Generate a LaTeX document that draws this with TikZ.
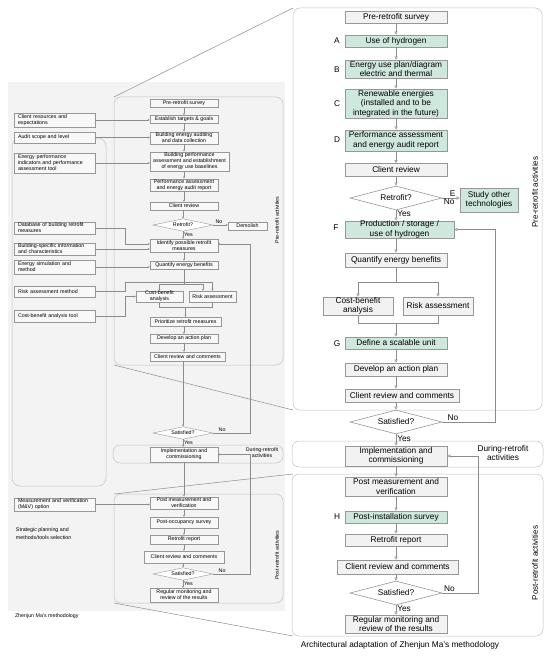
\documentclass[tikz,border=0pt]{standalone}
\usepackage{fontspec}
\setmainfont{Liberation Sans}
\usetikzlibrary{shapes.geometric,arrows.meta}

\definecolor{boxgray}{HTML}{F2F2F2}
\definecolor{boxline}{HTML}{979797}
\definecolor{mint}{HTML}{CFE8DE}
\definecolor{linegray}{HTML}{8C8C8C}
\definecolor{panelgray}{HTML}{C2C2C2}
\definecolor{bggray}{HTML}{F3F3F3}
\definecolor{lfill}{HTML}{F8F8F8}

\newcommand\rsize{\fontsize{8.3}{9.5}\selectfont}
\newcommand\lsize{\fontsize{5.3}{5.9}\selectfont}

\begin{document}
\begin{tikzpicture}[x=1pt,y=-1pt,
    line/.style={draw=linegray,line width=0.5pt},
    rarr/.style={line,-{Triangle[open,length=3pt,width=3pt]}},
    larr/.style={line,line width=0.4pt,-{Triangle[open,length=2pt,width=2pt]}},
    panel/.style={draw=panelgray,line width=0.5pt,rounded corners=7pt},
    rbox/.style={draw=boxline,fill=boxgray,line width=0.6pt,minimum width=102pt,inner xsep=3pt,inner ysep=0pt,align=center,font=\rsize},
    rgreen/.style={rbox,fill=mint},
    rdia/.style={diamond,aspect=4,draw=boxline,fill=white,line width=0.6pt,inner sep=0pt,minimum width=92pt,minimum height=24pt,font=\rsize},
    lbox/.style={draw=boxline,fill=lfill,line width=0.4pt,minimum width=68pt,inner xsep=2pt,inner ysep=0pt,align=center,font=\lsize},
    ldia/.style={diamond,aspect=4.5,draw=boxline,fill=white,line width=0.4pt,inner sep=0pt,minimum width=60pt,minimum height=12.5pt,font=\lsize},
    lin/.style={draw=boxline,fill=lfill,line width=0.4pt,text width=73pt,inner xsep=4pt,inner ysep=0pt,align=left,font=\lsize},
    rlab/.style={font=\rsize,inner sep=1pt},
    llab/.style={font=\lsize,inner sep=0.8pt}]
    \useasboundingbox (0,0) rectangle (550,658);

    \fill[bggray] (8,82) rectangle (285,611);
    \draw[panel,rounded corners=8pt] (12,138) rectangle (106,486);
    \draw[panel] (114,97) rectangle (283,365);
    \draw[panel] (113,445) rectangle (283,463);
    \draw[panel] (114,494) rectangle (283,603);
    \draw[panel] (293,8) rectangle (542,410);
    \draw[panel] (292,441) rectangle (543,467);
    \draw[panel] (292,474) rectangle (543,636);
    \draw[line] (114,97) -- (293,8);
    \draw[line] (114,365) -- (293,410);
    \draw[line] (114,494) -- (293,474);
    \draw[line] (114,603) -- (293,636);

    \node[lbox,minimum height=8pt] (lsurvey) at (184,103) {Pre-retrofit survey};
    \node[lbox,minimum height=8pt] (ltarget) at (184,119.5) {Establish targets \& goals};
    \node[lbox,minimum height=12.5pt] (laudit) at (184,138) {Building energy auditing\\and data collection};
    \node[lbox,minimum width=79pt,minimum height=19.5pt] (lbase) at (189.5,161.5) {Building performance\\assessment and establishment\\of energy use baselines};
    \node[lbox,minimum height=12.5pt] (lperf) at (184,185) {Performance assessment\\and energy audit report};
    \node[lbox,minimum height=8pt] (lclient) at (184,206) {Client review};
    \node[ldia] (lretro) at (183,225) {Retrofit?};
    \node[lbox,minimum width=39pt,minimum height=8pt] (ldemol) at (247.5,226) {Demolish};
    \node[lbox,minimum height=13pt] (lident) at (184,245.5) {Identify possible retrofit\\measures};
    \node[lbox,minimum height=8pt] (lquant) at (184,265) {Quantify energy benefits};
    \node[lbox,minimum width=47pt,minimum height=11pt] (lcost) at (159.5,296.5) {Cost-benefit\\analysis};
    \node[lbox,minimum width=47pt,minimum height=11pt] (lrisk) at (212.5,296.5) {Risk assessment};
    \node[lbox,minimum width=71pt,minimum height=9pt] (lprior) at (185.5,321.5) {Prioritize retrofit measures};
    \node[lbox,minimum height=9pt] (laction) at (184,338.5) {Develop an action plan};
    \node[lbox,minimum width=75pt,minimum height=9pt] (lreview) at (187.5,356.5) {Client review and comments};
    \node[ldia] (lsat1) at (183,433) {Satisfied?};
    \node[lbox,minimum height=15pt] (limpl) at (184,454.5) {Implementation and\\commissioning};
    \node[lbox,minimum height=12.5pt] (lpost) at (184,503) {Post measurement and\\verification};
    \node[lbox,minimum height=11pt] (loccu) at (184,522.5) {Post-occupancy survey};
    \node[lbox,minimum height=9pt] (lreport) at (184,539.5) {Retrofit report};
    \node[lbox,minimum width=80pt,minimum height=12pt] (lreview2) at (184,557) {Client review and comments};
    \node[ldia] (lsat2) at (183,574) {Satisfied?};
    \node[lbox,minimum height=14pt] (lmon) at (184,595) {Regular monitoring and\\review of the results};

    \node[lin,minimum height=14pt] (lin1) at (54.5,120) {Client resources and\\expectations};
    \node[lin,minimum height=11pt] (lin2) at (54.5,137.5) {Audit scope and level};
    \node[lin,minimum height=20pt] (lin3) at (54.5,163) {Energy performance\\indicators and performance\\assessment tool};
    \node[lin,minimum height=12pt] (lin4) at (54.5,228) {Database of building retrofit\\measures};
    \node[lin,minimum height=12pt] (lin5) at (54.5,249) {Building-specific information\\and characteristics};
    \node[lin,minimum height=14pt] (lin6) at (54.5,267) {Energy simulation and\\method};
    \node[lin,minimum height=11pt] (lin7) at (54.5,291.5) {Risk assessment method};
    \node[lin,minimum height=12pt] (lin8) at (54.5,316) {Cost-benefit analysis tool};
    \node[lin,minimum height=13pt] (lin9) at (54.5,504.5) {Measurement and verification\\(M\&V) option};

    \node[llab,align=left,anchor=west,font=\fontsize{5.3}{8.7}\selectfont] (lstrat) at (15,533.5) {Strategic planning and\\methods/tools selection};
    \node[llab,anchor=west] (lcaption) at (14,616) {Zhenjun Ma's methodology};
    \node[llab,rotate=90] (lpretext) at (277,220) {Pre-retrofit activities};
    \node[llab,align=center] (lduring) at (262,453) {During-retrofit\\activities};
    \node[llab,rotate=90] (lposttext) at (277,555) {Post-retrofit activities};

    \draw[larr] (lsurvey) -- (ltarget);
    \draw[larr] (ltarget) -- (laudit);
    \draw[larr] (laudit) -- (laudit |- lbase.north);
    \draw[larr] (lperf |- lbase.south) -- (lperf);
    \draw[larr] (lperf) -- (lclient);
    \draw[larr] (lclient.south -| lretro) -- (lretro);
    \draw[larr] (lretro.east) -- (lretro.east -| ldemol.west) node[llab,pos=0.4,above] {No};
    \draw[larr] (lretro.south) -- (lretro.south |- lident.north) node[llab,pos=0.4,right] {Yes};
    \draw[larr] (lident) -- (lquant);
    \draw[line,line width=0.4pt] (lquant.south) -- ++(0,15) coordinate (lsplit);
    \draw[larr] (lsplit) -| (lcost.north);
    \draw[larr] (lsplit) -| ([xshift=-9.5pt]lrisk.north);
    \draw[line,line width=0.4pt] (lcost.south) -- ++(0,5) coordinate (ljoin) -| (lrisk.south);
    \draw[larr] (ljoin -| lprior.north) -- (lprior.north);
    \draw[larr] (lprior.south -| laction) -- (laction);
    \draw[larr] (laction.south) -- (laction.south |- lreview.north);
    \draw[larr] (lsat1.north |- lreview.south) -- (lsat1.north);
    \draw[larr] (lsat1.east) -| node[llab,pos=0.12,above] {No} ([xshift=32pt,yshift=1.5pt]lident.east) -- ([yshift=1.5pt]lident.east);
    \draw[larr] (lsat1.south) -- (lsat1.south |- limpl.north) node[llab,pos=0.4,right] {Yes};
    \draw[larr] (limpl) -- (lpost);
    \draw[larr] (lpost) -- (loccu);
    \draw[larr] (loccu) -- (lreport);
    \draw[larr] (lreport) -- (lreview2);
    \draw[larr] (lreview2.south -| lsat2) -- (lsat2);
    \draw[larr] (lsat2.east) -| node[llab,pos=0.12,above] {No} ([xshift=32pt]limpl.east) -- (limpl.east);
    \draw[larr] (lsat2.south) -- (lsat2.south |- lmon.north) node[llab,pos=0.4,right] {Yes};

    \draw[larr] (lin1.east) -- (lin1.east -| ltarget.west);
    \draw[larr] (lin2.east) -- (lin2.east -| laudit.west);
    \draw[larr] (lin3.east) -- (lin3.east -| lbase.west);
    \draw[larr] (lin4.east) -| ([xshift=-25pt,yshift=1.5pt]lident.west) -- ([yshift=1.5pt]lident.west);
    \draw[larr] (lin5.east) -- (lin5.east -| lident.west);
    \draw[larr] (lin6.east) -- (lin6.east -| lquant.west);
    \draw[larr] (lin7.east) -| ([xshift=-87.5pt,yshift=8.5pt]lrisk.north) -| (lrisk.north);
    \draw[larr] (lin8.east) -| ([xshift=-11pt]lcost.west) -- (lcost.west);
    \draw[larr] (lin9.east) -- (lin9.east -| lpost.west);

    \node[rbox,minimum height=12pt] (rsurvey) at (396,17) {Pre-retrofit survey};
    \node[rgreen,minimum height=12pt] (ruse) at (396,41) {Use of hydrogen};
    \node[rgreen,minimum height=18pt] (rplan) at (396,69) {Energy use plan/diagram\\electric and thermal};
    \node[rgreen,minimum height=29pt] (rrenew) at (396,103.5) {Renewable energies\\(installed and to be\\integrated in the future)};
    \node[rgreen,minimum height=21pt] (rperf) at (396,140.5) {Performance assessment\\and energy audit report};
    \node[rbox,minimum height=13pt] (rclient) at (396,170) {Client review};
    \node[rdia] (rretro) at (396,198) {Retrofit?};
    \node[rgreen,minimum width=58pt,minimum height=24pt] (rstudy) at (489,200) {Study other\\technologies};
    \node[rgreen,minimum width=109pt,minimum height=17pt] (rprod) at (399.5,229.5) {Production / storage /\\use of hydrogen};
    \node[rbox,minimum height=14pt] (rquant) at (396,260) {Quantify energy benefits};
    \node[rbox,minimum width=70pt,minimum height=18pt] (rcost) at (358,306) {Cost-benefit\\analysis};
    \node[rbox,minimum width=70pt,minimum height=18pt] (rrisk) at (438,306) {Risk assessment};
    \node[rgreen,minimum height=12pt] (rscal) at (396,343) {Define a scalable unit};
    \node[rbox,minimum height=13pt] (raction) at (396,369.5) {Develop an action plan};
    \node[rbox,minimum width=114pt,minimum height=13pt] (rreview) at (402,395.5) {Client review and comments};
    \node[rdia] (rsat1) at (396,422) {Satisfied?};
    \node[rbox,minimum height=20pt] (rimpl) at (396,456) {Implementation and\\commissioning};
    \node[rbox,minimum height=19pt] (rpost) at (396,486.5) {Post measurement and\\verification};
    \node[rgreen,minimum height=12pt] (rsurv2) at (396,517) {Post-installation survey};
    \node[rbox,minimum height=12pt] (rreport) at (396,540) {Retrofit report};
    \node[rbox,minimum width=121pt,minimum height=14pt] (rreview2) at (397.5,567) {Client review and comments};
    \node[rdia] (rsat2) at (396,593) {Satisfied?};
    \node[rbox,minimum height=18pt] (rmon) at (396,624) {Regular monitoring and\\review of the results};

    \node[rlab] (ra) at (337,41) {A};
    \node[rlab] (rb) at (337,70) {B};
    \node[rlab] (rc) at (337,104) {C};
    \node[rlab] (rd) at (337,140) {D};
    \node[rlab] (rf) at (336,228) {F};
    \node[rlab] (rg) at (337,344) {G};
    \node[rlab] (rh) at (337,517) {H};
    \node[rlab,rotate=90,font=\fontsize{8}{9.5}\selectfont] (rpretext) at (535,192) {Pre-retrofit activities};
    \node[rlab,align=center] (rduring) at (503,453) {During-retrofit\\activities};
    \node[rlab,rotate=90,font=\fontsize{8}{9.5}\selectfont] (rposttext) at (535,563) {Post-retrofit activities};
    \node[rlab] (rcaption) at (400,645) {Architectural adaptation of Zhenjun Ma's methodology};

    \draw[rarr] (rsurvey) -- (ruse);
    \draw[rarr] (ruse) -- (rplan);
    \draw[rarr] (rplan) -- (rrenew);
    \draw[rarr] (rrenew) -- (rperf);
    \draw[rarr] (rperf) -- (rclient);
    \draw[rarr] (rclient) -- (rretro);
    \draw[rarr] (rretro.east) -- (rretro.east -| rstudy.west) node[rlab,pos=0.6,above] {E} node[rlab,pos=0.4,below] {No};
    \draw[rarr] (rretro.south) -- (rretro.south |- rprod.north) node[rlab,pos=0.3,right] {Yes};
    \draw[rarr] (rprod.south -| rquant) -- (rquant);
    \draw[line] (rquant.south) -- ++(0,15) coordinate (rsplit);
    \draw[rarr] (rsplit) -| (rcost.north);
    \draw[rarr] (rsplit) -| (rrisk.north);
    \draw[line] (rcost.south) -- ++(0,8) coordinate (rjoin) -| (rrisk.south);
    \draw[rarr] (rjoin -| rscal.north) -- (rscal.north);
    \draw[rarr] (rscal) -- (raction);
    \draw[rarr] (raction.south) -- (raction.south |- rreview.north);
    \draw[rarr] (rsat1.north |- rreview.south) -- (rsat1.north);
    \draw[rarr] (rsat1.east) -| node[rlab,pos=0.1,above] {No} ([xshift=41pt]rprod.east) -- (rprod.east);
    \draw[rarr] (rsat1.south) -- (rimpl.north) node[rlab,pos=0.4,right] {Yes};
    \draw[rarr] (rimpl) -- (rpost);
    \draw[rarr] (rpost) -- (rsurv2);
    \draw[rarr] (rsurv2) -- (rreport);
    \draw[rarr] (rreport.south) -- (rreport.south |- rreview2.north);
    \draw[rarr] (rsat2.north |- rreview2.south) -- (rsat2.north);
    \draw[rarr] (rsat2.east) -| node[rlab,pos=0.1,above] {No} ([xshift=31pt]rimpl.east) -- (rimpl.east);
    \draw[rarr] (rsat2.south) -- (rmon.north) node[rlab,pos=0.4,right] {Yes};
\end{tikzpicture}
\end{document}
